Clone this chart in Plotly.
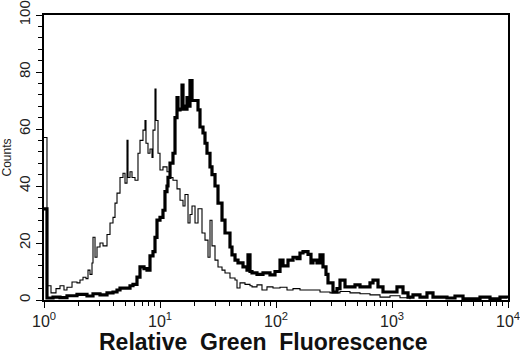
import plotly.graph_objects as go

# Thin histogram (control): fluorescence (channel value) and counts
thin_fl = [1.000, 1.061, 1.149, 1.269, 1.374, 1.487, 1.578, 1.744, 1.925, 2.043,
           2.169, 2.302, 2.395, 2.492, 2.593, 2.645, 2.753, 2.864, 3.039, 3.226,
           3.493, 3.707, 3.934, 4.094, 4.260, 4.521, 4.797, 4.992, 5.195, 5.299,
           5.514, 5.737, 6.088, 6.461, 6.723, 7.135, 7.424, 7.572, 7.880, 8.200,
           8.532, 8.703, 9.056, 9.237, 9.612, 10.00, 10.61, 11.49, 12.20, 12.94,
           14.02, 14.88, 15.79, 16.43, 17.44, 18.14, 18.88, 20.04, 21.27, 23.02,
           24.43, 25.93, 26.98, 28.07, 29.80, 31.62, 34.24, 36.34, 40.12, 44.33,
           46.12, 48.95, 54.05, 59.68, 62.10, 68.58, 75.72, 83.61, 94.22, 108.3,
           124.4, 140.2, 161.0, 196.4, 239.5, 292.1, 356.2, 434.4, 529.9, 646.1,
           788.0, 961.2, 1172, 1430]
thin_counts = [57, 5, 2.5, 4, 5, 3.5, 4.5, 6.3, 6, 7,
               8, 7.5, 10.5, 9, 13, 22, 15, 18.6, 20, 19,
               23, 27, 29, 34, 37.5, 43, 44.5, 41, 56, 43,
               45, 43, 42, 51.5, 56, 59.6, 63, 55, 51.5, 53,
               50, 59.6, 74, 63, 51.5, 45.6, 46.7, 45, 43, 42,
               39, 35, 33, 37, 27, 30, 33, 27, 32, 23.5,
               21, 15, 28, 19, 14, 11.6, 10.5, 9.5, 7.7, 7,
               4.2, 6, 5.5, 5, 4.6, 5.3, 3.5, 4.6, 4.2, 4.5,
               3.5, 4, 3.5, 3.5, 2.8, 2.5, 3, 2.5, 2.2, 1.8,
               1, 1.5, 0.8, 0.3]

# Thick histogram (stained): fluorescence (channel value) and counts
thick_fl = [1.000, 1.061, 1.196, 1.374, 1.578, 1.925, 2.348, 2.645, 3.039, 3.493,
            3.934, 4.260, 4.521, 4.992, 5.514, 5.850, 6.334, 6.723, 7.280, 7.725,
            8.200, 8.703, 9.056, 9.421, 10.00, 10.61, 11.04, 11.49, 11.72, 12.20,
            12.94, 13.47, 14.02, 14.30, 14.88, 15.48, 15.79, 16.43, 17.09, 17.78,
            18.14, 18.88, 20.04, 21.27, 22.12, 23.48, 24.43, 25.42, 26.98, 28.07,
            29.80, 31.62, 34.24, 36.34, 40.12, 41.75, 44.33, 47.03, 51.94, 56.23,
            57.36, 59.68, 62.10, 68.58, 77.25, 88.77, 98.04, 108.3, 114.9, 126.9,
            140.2, 151.7, 161.0, 170.9, 188.8, 200.3, 208.4, 225.6, 239.5, 254.2,
            269.8, 280.7, 310.0, 335.7, 356.2, 393.4, 434.4, 479.7, 529.9, 585.0,
            646.1, 685.8, 757.4, 836.4, 961.2, 1104, 1244, 1374, 1517, 1743,
            2003, 2256, 2979, 3492, 4094, 5736, 6995, 8531, 9804]
thick_counts = [32, 0.7, 1, 0.8, 1.5, 2, 1.4, 2.2, 1.8, 2.5,
                2.8, 3.5, 4.2, 4.2, 5, 5.5, 8, 11.6, 11, 10.5,
                15.5, 17, 22, 28, 29, 31.5, 38, 40, 43, 48,
                51.5, 64, 71, 66.7, 67, 75.4, 68, 67, 71, 68,
                77, 70, 70, 66.7, 60.7, 58.6, 55, 51.5, 46.7, 44,
                40, 34, 28, 23.5, 18.6, 15.8, 14, 13, 11.6, 10.5,
                15.8, 10, 9.5, 9, 9.5, 8.8, 10, 14, 12, 14,
                15, 14.5, 16.5, 17, 16, 13, 14, 13, 15.8, 11.6,
                9, 6, 2.8, 4, 7, 4.6, 4.6, 5.3, 4.6, 4.6,
                6, 7, 4.6, 2.8, 2.8, 4.6, 2.5, 1, 1.8, 1,
                2.5, 1, 0.7, 1.4, 0.4, 1, 0.4, 1, 0.5]

x_tickvals = [1, 10, 100, 1000, 10000]
x_ticktext = ["10<sup>0</sup>", "10<sup>1</sup>", "10<sup>2</sup>",
              "10<sup>3</sup>", "10<sup>4</sup>"]
x_minor = [m * d for d in [1, 10, 100, 1000] for m in range(2, 10)]
y_tickvals = [0, 20, 40, 60, 80, 100]
x_title = "Relative&nbsp;&nbsp;Green&nbsp;&nbsp;Fluorescence"

fig = go.Figure()
fig.add_trace(go.Scatter(x=thin_fl, y=thin_counts, mode="lines",
                         line=dict(color="black", width=1.1, shape="hv"),
                         showlegend=False, cliponaxis=False))
fig.add_trace(go.Scatter(x=thick_fl, y=thick_counts, mode="lines",
                         line=dict(color="black", width=3.2, shape="hv"),
                         showlegend=False, cliponaxis=False))

font_family = "Liberation Sans, Arial, sans-serif"
fig.update_layout(
    width=520, height=357,
    margin=dict(l=44, r=12, t=15, b=57),
    paper_bgcolor="white", plot_bgcolor="white",
    font=dict(family=font_family, color="#222"),
    xaxis=dict(
        type="log", range=[0, 4], automargin=False,
        showline=True, linecolor="black", linewidth=1.6, mirror=True,
        showgrid=False, zeroline=False,
        ticks="outside", ticklen=6, tickwidth=1.2, tickcolor="black",
        tickmode="array", tickvals=x_tickvals, ticktext=x_ticktext,
        tickfont=dict(size=16, color="#222"), ticklabeloverflow="allow",
        minor=dict(tickmode="array", tickvals=x_minor, ticks="outside",
                   ticklen=4, tickwidth=1, tickcolor="black"),
    ),
    yaxis=dict(
        range=[0, 100], automargin=False,
        showline=True, linecolor="black", linewidth=1.6, mirror=True,
        showgrid=False, zeroline=False,
        ticks="outside", ticklen=6, tickwidth=1.2, tickcolor="black",
        tickmode="array", tickvals=y_tickvals, tickangle=-90,
        tickfont=dict(size=15, color="#222"), ticklabeloverflow="allow",
        minor=dict(dtick=4, ticks="outside", ticklen=4, tickwidth=1,
                   tickcolor="black"),
        title=dict(text="Counts", font=dict(size=12, color="#222"), standoff=2),
    ),
    annotations=[dict(
        text="<b>" + x_title + "</b>", xref="paper", yref="paper",
        x=0.474, y=-0.148, xanchor="center", yanchor="middle",
        showarrow=False, font=dict(size=23, color="#111"),
    )],
)

# remove the default page margin so the figure sits at the window's corner
fig.write_html("out.html",
               config={"displayModeBar": False},
               post_script="document.body.style.margin='0';")
